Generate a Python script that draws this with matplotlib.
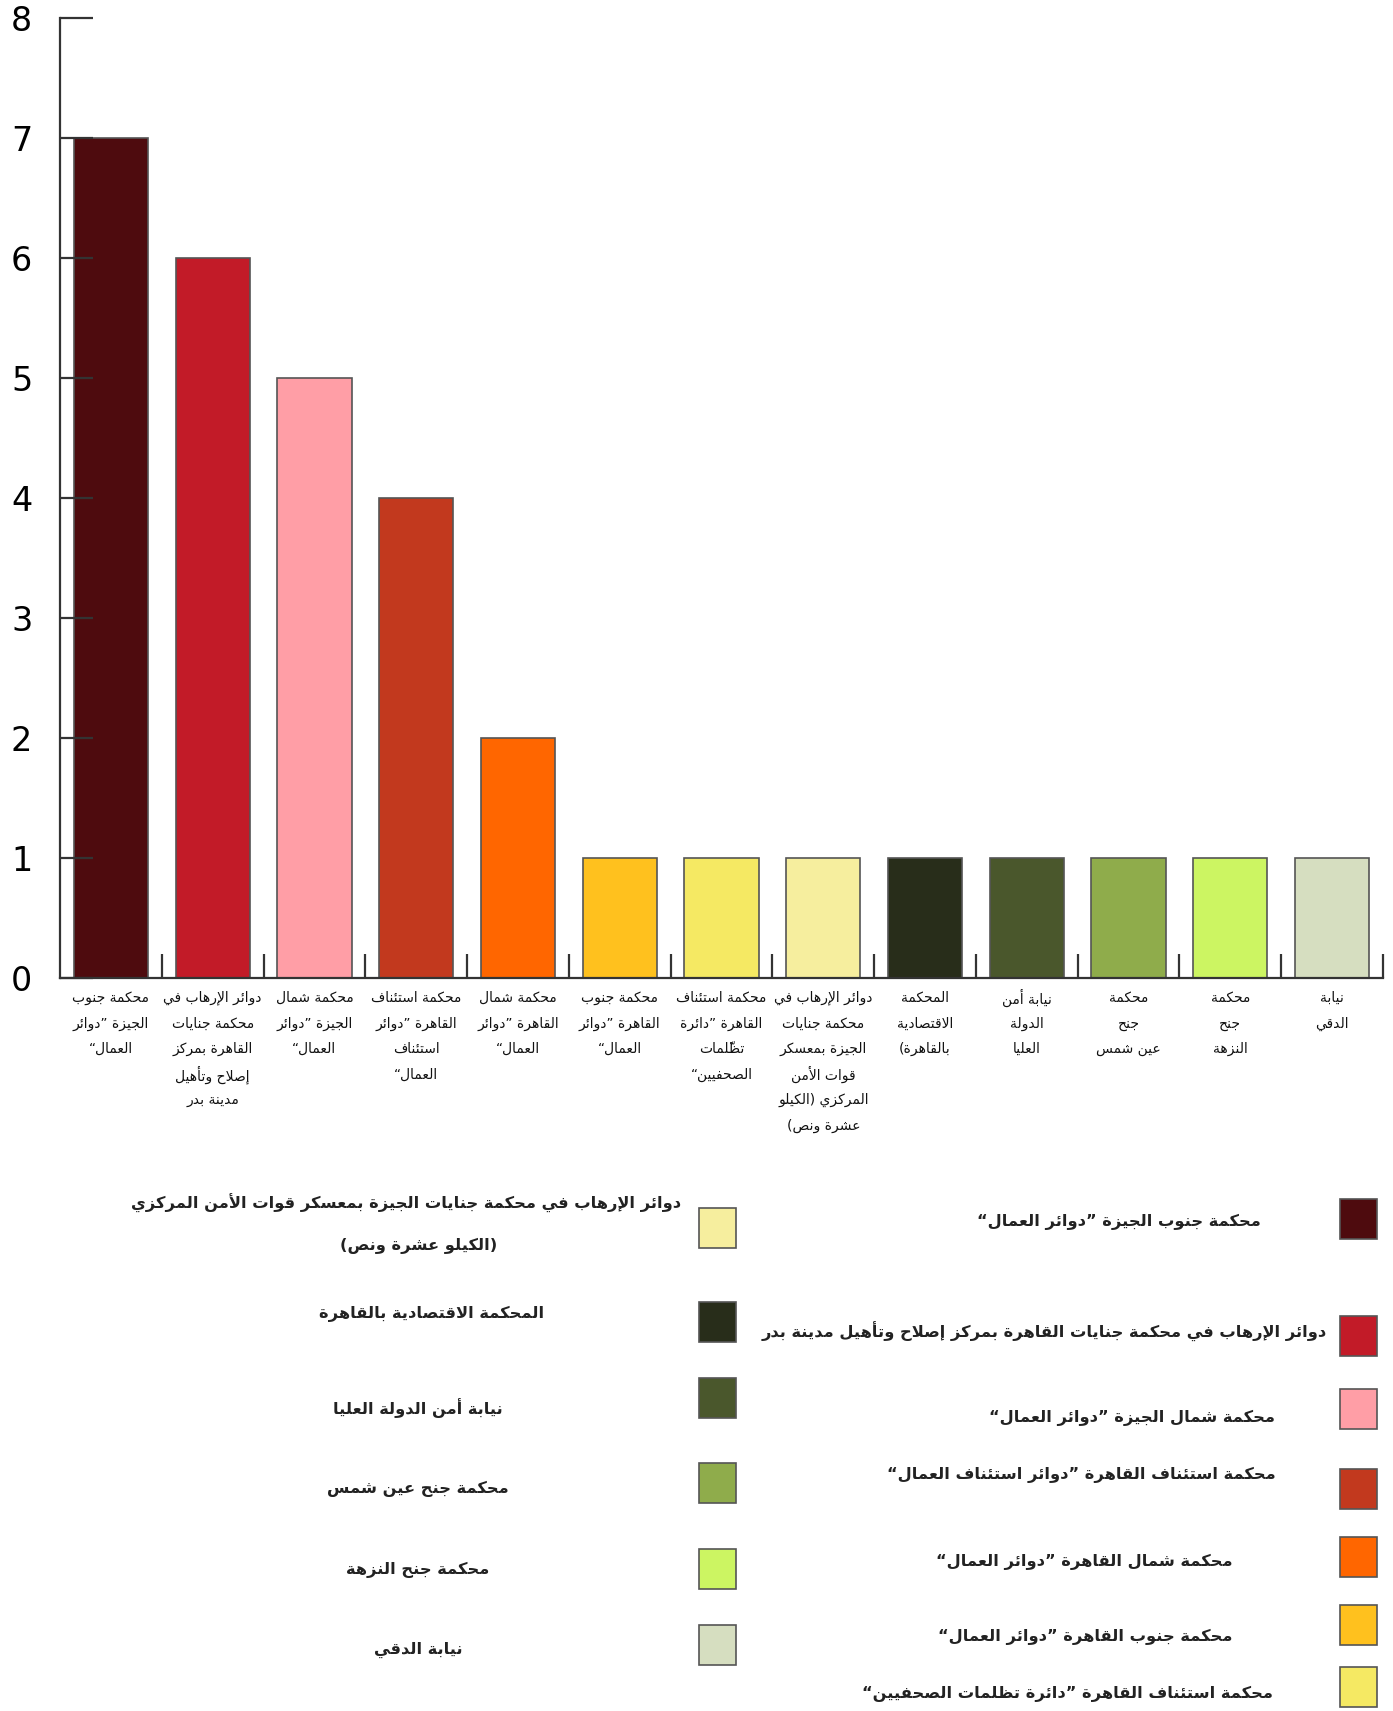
import matplotlib
matplotlib.use("Agg")
import matplotlib.pyplot as plt
from matplotlib.patches import Rectangle

# ---- data ----
courts = [
    "محكمة جنوب الجيزة ”دوائر العمال“",
    "دوائر الإرهاب في محكمة جنايات القاهرة بمركز إصلاح وتأهيل مدينة بدر",
    "محكمة شمال الجيزة ”دوائر العمال“",
    "محكمة استئناف القاهرة ”دوائر استئناف العمال“",
    "محكمة شمال القاهرة ”دوائر العمال“",
    "محكمة جنوب القاهرة ”دوائر العمال“",
    "محكمة استئناف القاهرة ”دائرة تظلمات الصحفيين“",
    "دوائر الإرهاب في محكمة جنايات الجيزة بمعسكر قوات الأمن المركزي",
    "المحكمة الاقتصادية بالقاهرة",
    "نيابة أمن الدولة العليا",
    "محكمة جنح عين شمس",
    "محكمة جنح النزهة",
    "نيابة الدقي",
]
counts = [7, 6, 5, 4, 2, 1, 1, 1, 1, 1, 1, 1, 1]
colors = ["#4E0B0E", "#C21B28", "#FF9EA6", "#C2391E", "#FF6600", "#FFC11E",
          "#F5E963", "#F6EE9E", "#282D1A", "#4A572C", "#8FAC4B", "#CCF562",
          "#D6DEC0"]
tick_lines = [
    ["محكمة جنوب", "الجيزة ”دوائر", "العمال“"],
    ["دوائر الإرهاب في", "محكمة جنايات", "القاهرة بمركز", "إصلاح وتأهيل", "مدينة بدر"],
    ["محكمة شمال", "الجيزة ”دوائر", "العمال“"],
    ["محكمة استئناف", "القاهرة ”دوائر", "استئناف", "العمال“"],
    ["محكمة شمال", "القاهرة ”دوائر", "العمال“"],
    ["محكمة جنوب", "القاهرة ”دوائر", "العمال“"],
    ["محكمة استئناف", "القاهرة ”دائرة", "تظلّمات", "الصحفيين“"],
    ["دوائر الإرهاب في", "محكمة جنايات", "الجيزة بمعسكر", "قوات الأمن", "المركزي (الكيلو", "عشرة ونص)"],
    ["المحكمة", "الاقتصادية", "بالقاهرة)"],
    ["نيابة أمن", "الدولة", "العليا"],
    ["محكمة", "جنح", "عين شمس"],
    ["محكمة", "جنح", "النزهة"],
    ["نيابة", "الدقي"],
]
legend_extra = {7: "(الكيلو عشرة ونص)"}

# ---- minimal arabic shaping (matplotlib has no bidi / joining) ----
DUAL = dict(zip("ئبتثجحخسشصضطظعغفقكلمنهي",
                [0xFE89, 0xFE8F, 0xFE95, 0xFE99, 0xFE9D, 0xFEA1, 0xFEA5, 0xFEB1,
                 0xFEB5, 0xFEB9, 0xFEBD, 0xFEC1, 0xFEC5, 0xFEC9, 0xFECD, 0xFED1,
                 0xFED5, 0xFED9, 0xFEDD, 0xFEE1, 0xFEE5, 0xFEE9, 0xFEF1]))
RIGHT = dict(zip("آأؤإاةدذرزوى",
                 [0xFE81, 0xFE83, 0xFE85, 0xFE87, 0xFE8D, 0xFE93, 0xFEA9, 0xFEAB,
                  0xFEAD, 0xFEAF, 0xFEED, 0xFEEF]))
LAMALEF = {"آ": 0xFEF5, "أ": 0xFEF7, "إ": 0xFEF9, "ا": 0xFEFB}
MARKS = set(chr(c) for c in range(0x064B, 0x0653))


def joins(c):
    return c in DUAL or c in RIGHT


def shape(s):
    base = list(s)
    out = []
    i = 0
    n = len(base)

    def neighbour(j, step):
        j += step
        while 0 <= j < n and base[j] in MARKS:
            j += step
        return base[j] if 0 <= j < n else None

    while i < n:
        c = base[i]
        if not joins(c):
            out.append(c)
            i += 1
            continue
        prev = neighbour(i, -1)
        nxt_i = i + 1
        while nxt_i < n and base[nxt_i] in MARKS:
            nxt_i += 1
        nxt = base[nxt_i] if nxt_i < n else None
        jp = prev in DUAL
        if c == "ل" and nxt in LAMALEF:
            out.append(chr(LAMALEF[nxt] + (1 if jp else 0)))
            out.extend(base[i + 1:nxt_i])
            i = nxt_i + 1
            continue
        if c in DUAL:
            jn = nxt is not None and joins(nxt)
            off = {(False, False): 0, (True, False): 1,
                   (False, True): 2, (True, True): 3}[(jp, jn)]
            out.append(chr(DUAL[c] + off))
        else:
            out.append(chr(RIGHT[c] + (1 if jp else 0)))
        i += 1
    # visual order: reverse clusters, keep marks after base
    clusters = []
    for c in out:
        if c in MARKS and clusters:
            clusters[-1] += c
        else:
            clusters.append(c)
    vis = "".join(reversed(clusters))
    return vis.translate(str.maketrans("()", ")("))


# ---- figure ----
W, H = 1393, 1711
fig = plt.figure(figsize=(W / 100, H / 100), dpi=100)
ax = fig.add_axes([60 / W, 1 - 978 / H, 1323 / W, 960 / H])

x = list(range(len(counts)))
ax.bar(x, counts, width=0.73, color=colors, edgecolor="#555555", linewidth=1.2)
ax.set_xlim(-0.5, len(counts) - 0.5)
ax.set_ylim(0, 8)

for s in ["top", "right"]:
    ax.spines[s].set_visible(False)
for s in ["left", "bottom"]:
    ax.spines[s].set_color("#333333")
    ax.spines[s].set_linewidth(1.6)

ax.set_yticks(range(9))
ax.tick_params(axis="y", direction="in", length=24, width=1.6, color="#333333",
               labelsize=24, pad=20)
ax.set_xticks(x)
ax.set_xticklabels([])
ax.tick_params(axis="x", which="major", length=0)
ax.set_xticks([k + 0.5 for k in x], minor=True)
ax.tick_params(axis="x", which="minor", direction="in", length=17, width=1.6,
               color="#333333")

# category labels, one line at a time (fixed line pitch)
for i, lines in zip(x, tick_lines):
    for j, line in enumerate(lines):
        ax.annotate(shape(line), xy=(i, 0), xycoords=("data", "axes fraction"),
                    xytext=(0, -14.5 - 18.4 * j), textcoords="offset points",
                    ha="center", va="center", fontsize=10, color="#111111",
                    annotation_clip=False)

# ---- legend (manual layout like the source) ----
right_rows = [(1199, 1119, 1222), (1316, 1044, 1332), (1389, 1132, 1418),
              (1469, 1081, 1475), (1537, 1084, 1562), (1605, 1085, 1637),
              (1667, 1068, 1694)]
left_rows = [(1208, 406, 1203), (1302, 432, 1314), (1378, 418, 1408),
             (1463, 418, 1489), (1549, 418, 1570), (1625, 418, 1650)]
rows = [(1340,) + r for r in right_rows] + [(699,) + r for r in left_rows]
for k, (sx, sy, tx, ty) in enumerate(rows):
    fig.patches.append(Rectangle((sx / W, 1 - (sy + 40) / H), 37 / W, 40 / H,
                                 transform=fig.transFigure, facecolor=colors[k],
                                 edgecolor="#555555", linewidth=1.2))
    fig.text(tx / W, 1 - ty / H, shape(courts[k]), ha="center", va="center",
             fontsize=11.7, fontweight="bold", color="#222222")
    if k in legend_extra:
        fig.text(419 / W, 1 - 1246 / H, shape(legend_extra[k]), ha="center",
                 va="center", fontsize=11.7, fontweight="bold", color="#222222")

fig.savefig("out.png", dpi=100)
